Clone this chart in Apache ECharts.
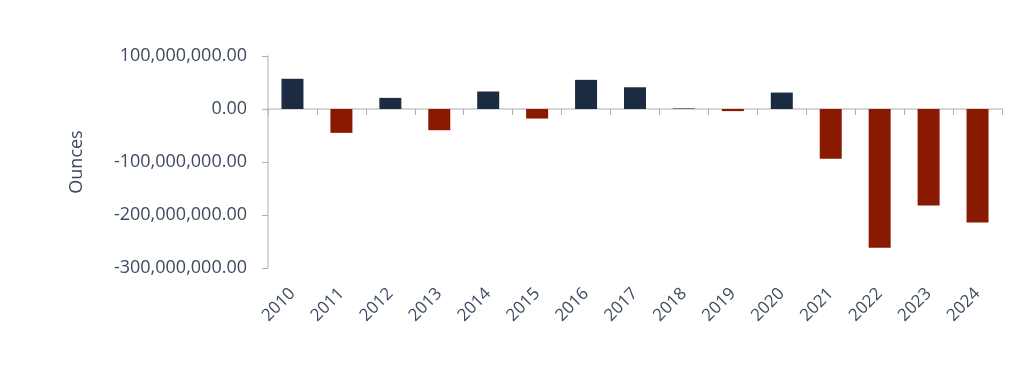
<!DOCTYPE html>
<html><head><meta charset="utf-8">
<script src="https://cdn.jsdelivr.net/npm/echarts@6/dist/echarts.min.js"></script>
<style>html,body{margin:0;padding:0;background:#fff}#c{width:1023px;height:372px}</style>
</head><body><div id="c"></div>
<script>
const years = ['2010','2011','2012','2013','2014','2015','2016','2017','2018','2019','2020','2021','2022','2023','2024'];
const values = [57000000,-45000000,21000000,-40000000,33000000,-18000000,55000000,41000000,1000000,-4000000,31000000,-94000000,-262000000,-182000000,-214000000];
const yTicks = {min:-300000000, max:100000000, interval:100000000};
const posColor = '#1b2b42', negColor = '#891900';
const textColor = '#3d4b5f';
const font = 'Open Sans';

const chart = echarts.init(document.getElementById('c'));
chart.setOption({
  animation:false,
  grid:{left:268,right:21,top:56,bottom:104},
  xAxis:[{
    type:'category', data:years,
    axisLine:{onZero:true, lineStyle:{color:'#c9c9c9', width:1.5}},
    axisTick:{show:true, alignWithLabel:false, length:6, lineStyle:{color:'#b0b0b0'}},
    axisLabel:{show:false}
  },{
    type:'category', data:years, position:'bottom',
    axisLine:{show:false, onZero:false}, axisTick:{show:false},
    axisLabel:{rotate:45, margin:23, color:textColor, fontSize:17, fontFamily:font}
  }],
  yAxis:{
    type:'value', min:yTicks.min, max:yTicks.max, interval:yTicks.interval,
    name:'Ounces', nameLocation:'middle', nameGap:182, nameRotate:90,
    nameTextStyle:{color:textColor, fontSize:18, fontFamily:font},
    axisLine:{show:true, lineStyle:{color:'#c9c9c9', width:1.5}},
    axisTick:{show:true, length:6, lineStyle:{color:'#b0b0b0'}},
    splitLine:{show:false},
    axisLabel:{margin:21, color:textColor, fontSize:18, fontFamily:font,
      formatter:v=>v.toLocaleString('en-US',{minimumFractionDigits:2, maximumFractionDigits:2})}
  },
  series:[{
    type:'bar', xAxisIndex:0, barWidth:22,
    data:values.map(v=>({value:v, itemStyle:{color:v>=0?posColor:negColor}}))
  }]
});
</script></body></html>
